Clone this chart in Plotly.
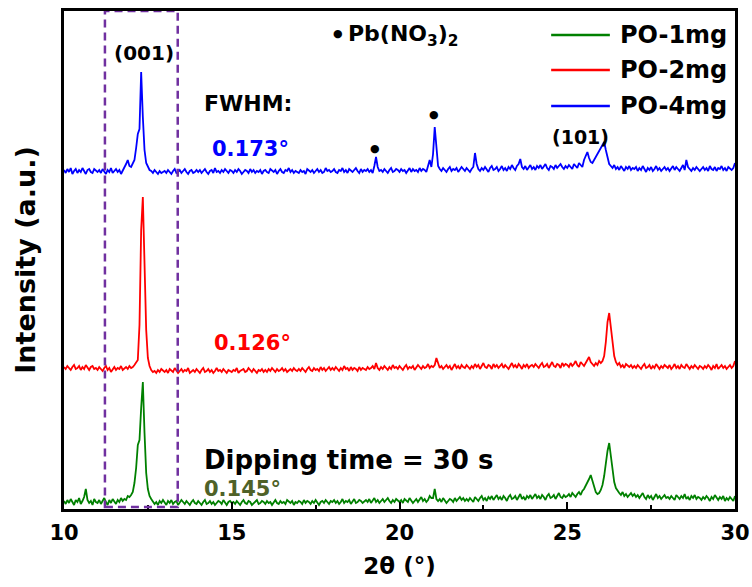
import numpy as np
import plotly.graph_objects as go

# 2-theta scan grid (step 0.05 deg, 10..30)
two_theta = np.round(np.arange(10.0, 30.0001, 0.05), 2)

# relative intensities (a.u.), one row per degree
po1_rel = (
    [2, -1, 3, 0, 4, 1, -2, 3, 1, 5, -1, 2, 6, 14, 3, 0, 2, -2, 4, 1] +
    [0, 3, -1, 2, 5, 1, -2, 3, 0, 4, 2, -1, 3, 1, 5, 2, 4, 3, 7, 6] +
    [8, 11, 20, 35, 58, 63, 95, 121, 70, 30, 14, 7, 4, 2, -1, 1, -2, 2, 0, 3] +
    [1, -2, 2, 0, 3, -1, 1, 2, -2, 0, 3, 1, -1, 2, 0, -2, 1, 3, 0, -1] +
    [2, 0, -2, 1, 3, -1, 0, 2, -1, 1, -2, 0, 2, 1, -1, 3, 0, -2, 1, 2] +
    [0, 1, -1, 2, 0, -2, 1, 3, 0, -1, 2, 1, -2, 0, 1, 3, -1, 0, 2, 1] +
    [-1, 2, 0, 1, -2, 1, 3, 0, -1, 2, 0, 1, -1, 3, 1, 0, 2, -2, 1, 0] +
    [2, 1, -1, 3, 0, 2, 1, -1, 2, 0, 3, 1, -2, 1, 2, 0, 3, 1, -1, 2] +
    [1, 3, 0, 2, -1, 1, 4, 0, 2, 1, 3, -1, 2, 4, 0, 1, 3, 2, 0, 2] +
    [3, 1, 4, 0, 2, 5, 1, 3, 0, 2, 4, 1, 3, 5, 2, 0, 3, 1, 4, 2] +
    [1, 3, 0, 4, 2, 1, 5, 3, 0, 2, 4, 1, 3, 6, 2, 4, 1, 3, 7, 5] +
    [5, 14, 4, 2, 4, 1, 5, 3, 0, 2, 4, 3, 1, 5, 2, 4, 6, 3, 5, 2] +
    [4, 2, 5, 3, 1, 6, 4, 2, 5, 7, 3, 5, 2, 6, 4, 7, 3, 5, 8, 4] +
    [6, 3, 7, 5, 2, 6, 8, 4, 5, 7, 3, 6, 9, 4, 6, 3, 7, 5, 8, 4] +
    [6, 9, 5, 7, 4, 8, 6, 3, 7, 9, 5, 6, 8, 4, 7, 10, 6, 5, 8, 6] +
    [7, 9, 6, 10, 8, 6, 9, 11, 8, 12, 14, 17, 21, 24, 28, 22, 15, 11, 9, 10] +
    [13, 18, 27, 40, 52, 60, 47, 32, 21, 15, 12, 10, 8, 11, 7, 9, 6, 8, 10, 7] +
    [9, 6, 8, 5, 7, 10, 6, 4, 8, 5, 7, 3, 6, 9, 5, 7, 4, 6, 8, 5] +
    [6, 4, 7, 5, 3, 8, 6, 4, 7, 5, 9, 4, 6, 3, 7, 5, 8, 4, 6, 5] +
    [3, 6, 4, 7, 5, 2, 6, 4, 8, 5, 3, 6, 4, 7, 2, 5, 3, 6, 4, 2] +
    [7]
)

po2_rel = (
    [3, 1, 4, 2, 0, 3, 5, 1, 2, 4, 0, 3, 1, 5, 2, 0, 3, 4, 1, 2] +
    [0, 3, 1, -1, 2, 4, 0, 2, -2, 1, 3, 0, 2, 1, 4, 0, 2, 3, 1, 4] +
    [2, 3, 5, 7, 10, 45, 140, 173, 110, 40, 12, 4, 0, -2, -1, -3, 0, -2, 1, -1] +
    [-2, 0, -3, 1, -1, -2, 2, 0, -3, -1, 1, -2, 0, -1, 2, -3, -1, 0, -2, 1] +
    [-1, -3, 0, 2, -2, -1, 1, -2, 0, -3, -1, 2, -1, 0, -2, 1, -1, -3, 0, -1] +
    [-2, 0, -1, 2, -3, -1, 0, 1, -2, -1, 2, 0, -2, 1, -1, -3, 0, -1, 1, -2] +
    [0, -2, 1, -1, 2, 0, -2, 1, -1, 0, 2, -1, 1, -2, 0, 1, -1, 2, 0, -1] +
    [1, -1, 2, 0, -2, 1, 3, 0, -1, 2, 0, 1, -1, 3, 0, 2, -1, 1, 3, 0] +
    [2, 0, 3, 1, -1, 2, 0, 4, 1, 2, -1, 3, 0, 2, 1, -1, 3, 0, 2, 1] +
    [0, 3, 1, 2, 4, 1, 7, 2, 0, 3, 1, 4, 2, 0, 3, 1, 5, 2, 3, 1] +
    [4, 2, 0, 3, 5, 1, 3, 2, 4, 0, 2, 5, 3, 1, 4, 2, 3, 6, 2, 4] +
    [3, 5, 12, 6, 2, 4, 1, 3, 5, 2, 4, 0, 3, 6, 2, 4, 1, 5, 3, 2] +
    [5, 3, 1, 4, 2, 6, 3, 5, 1, 4, 7, 3, 2, 5, 4, 1, 6, 3, 5, 2] +
    [4, 6, 2, 5, 3, 1, 4, 7, 3, 5, 2, 6, 4, 1, 5, 3, 6, 2, 4, 5] +
    [3, 6, 4, 2, 5, 7, 3, 4, 6, 2, 5, 8, 4, 3, 6, 5, 2, 7, 4, 6] +
    [5, 3, 7, 4, 6, 9, 5, 3, 8, 6, 4, 7, 10, 13, 8, 6, 4, 7, 5, 9] +
    [7, 9, 14, 28, 48, 57, 44, 26, 14, 8, 5, 7, 3, 5, 2, 6, 4, 3, 5, 2] +
    [4, 2, 5, 3, 1, 4, 6, 2, 3, 5, 1, 4, 2, 6, 3, 1, 4, 2, 5, 3] +
    [2, 5, 1, 3, 6, 2, 4, 1, 5, 3, 2, 6, 3, 1, 4, 2, 5, 3, 1, 4] +
    [3, 1, 4, 2, 5, 3, 0, 4, 2, 6, 1, 3, 5, 2, 4, 1, 3, 5, 2, 4] +
    [9]
)

po4_rel = (
    [2, -1, 3, 0, 4, -2, 1, 3, -1, 2, 0, 4, 1, -2, 2, 3, 0, -1, 3, 1] +
    [0, 2, -1, 3, 1, -2, 2, 0, 4, -1, 1, 3, 0, 2, -2, 1, 4, 8, 12, 6] +
    [5, 8, 12, 24, 38, 43, 100, 55, 22, 9, 5, 2, 1, -1, 2, 0, -2, 1, -1, 0] +
    [1, -1, 2, 0, -2, 1, 3, -1, 0, 2, -1, 1, 3, 0, -2, 1, 2, -1, 0, 2] +
    [0, 2, -1, 1, 3, 0, -2, 1, 2, -1, 4, 0, 1, -1, 2, 0, 3, 1, -1, 2] +
    [1, -1, 2, 0, 3, 1, -2, 0, 2, 1, -1, 3, 0, 2, -1, 1, 0, 2, -2, 1] +
    [2, 0, -1, 3, 1, 0, 2, -2, 1, 3, 0, -1, 2, 1, 4, 0, 2, -1, 1, 0] +
    [-1, 2, 0, 1, -2, 3, 1, 0, 2, -1, 1, 3, 0, 2, -1, 0, 4, 1, 2, 0] +
    [1, 3, 0, -1, 2, 1, 4, 0, 2, -1, 3, 1, 0, 2, 4, 1, -1, 3, 0, 2] +
    [1, 3, 0, 2, -1, 6, 15, 5, 1, 2, 0, 3, 1, -1, 2, 4, 0, 1, 3, 2] +
    [0, 3, 1, 2, -1, 2, 4, 0, 3, 1, 2, 0, 4, 1, 3, 2, 0, 6, 12, 5] +
    [18, 45, 20, 6, 3, 1, 4, 2, 0, 3, 5, 1, 3, 2, 4, 0, 2, 5, 3, 1] +
    [4, 2, 0, 3, 5, 19, 8, 3, 1, 4, 2, 5, 3, 0, 4, 6, 2, 3, 5, 1] +
    [3, 6, 2, 4, 1, 5, 3, 7, 4, 2, 6, 8, 13, 5, 3, 6, 2, 4, 7, 3] +
    [5, 2, 6, 4, 7, 3, 5, 8, 4, 2, 6, 5, 3, 7, 4, 6, 8, 5, 3, 6] +
    [4, 7, 5, 3, 8, 6, 4, 9, 7, 5, 12, 16, 20, 14, 10, 9, 12, 15, 18, 22] +
    [25, 27, 30, 22, 13, 8, 6, 4, 7, 3, 5, 2, 6, 4, 1, 5, 3, 6, 2, 4] +
    [3, 5, 1, 4, 2, 6, 3, 0, 4, 2, 5, 1, 3, 6, 2, 4, 1, 3, 5, 2] +
    [4, 1, 3, 6, 2, 5, 3, 1, 4, 7, 2, 12, 5, 3, 1, 4, 2, 5, 3, 1] +
    [3, 5, 2, 4, 1, 6, 3, 2, 5, 1, 4, 3, 6, 2, 4, 1, 5, 3, 2, 4] +
    [9]
)

series_names = ["PO-1mg", "PO-2mg", "PO-4mg"]
series_values = [po1_rel, po2_rel, po4_rel]
series_offsets = [6, 139, 337]          # vertical stacking offsets
series_colors = ["#008000", "#FF0000", "#0000FF"]
fwhm_labels = ["0.145°", "0.126°", "0.173°"]
fwhm_colors = ["#4F6228", "#FF0000", "#0000FF"]
x_ticks = [10, 15, 20, 25, 30]

FONT = "DejaVu Sans, Liberation Sans, Arial"

fig = go.Figure()
for name, vals, off, col in zip(series_names, series_values, series_offsets, series_colors):
    fig.add_trace(go.Scatter(
        x=two_theta, y=np.array(vals) + off, mode="lines", name=name,
        line=dict(color=col, width=1.8), showlegend=False,
    ))

# (001) highlight box
fig.add_shape(type="rect", xref="x", yref="y", x0=11.22, x1=13.39, y0=2, y1=498,
              line=dict(color="#7030A0", width=2.5, dash="8px,5px"), layer="above")

# custom legend (long line samples)
leg_y = [474, 439, 403]
for name, col, yy in zip(series_names, series_colors, leg_y):
    fig.add_shape(type="line", xref="x", yref="y", x0=24.52, x1=26.27, y0=yy, y1=yy,
                  line=dict(color=col, width=2.5))
    fig.add_annotation(x=26.5, y=yy, xref="x", yref="y", text=name, showarrow=False,
                       xanchor="left", yanchor="middle",
                       font=dict(family=FONT, size=24, color="black", weight="bold"))

def txt(x, y, s, size, color="black", anchor="left"):
    fig.add_annotation(x=x, y=y, xref="x", yref="y", text=s, showarrow=False,
                       xanchor=anchor, yanchor="middle",
                       font=dict(family=FONT, size=size, color=color, weight="bold"))

txt(12.38, 456, "(001)", 20, anchor="center")
txt(18.17, 476, "●", 11, anchor="center")
txt(18.4, 474, "Pb(NO<sub>3</sub>)<sub>2</sub>", 22)
txt(25.38, 372, "(101)", 19, anchor="center")
txt(19.27, 361, "●", 11, anchor="center")
txt(21.03, 395, "●", 11, anchor="center")
txt(14.1, 406, "FWHM:", 22)
txt(14.35, 360, fwhm_labels[2], 21, fwhm_colors[2])
txt(14.4, 166, fwhm_labels[1], 21, fwhm_colors[1])
txt(14.1, 49, "Dipping time = 30 s", 26)
txt(14.1, 20, fwhm_labels[0], 21, fwhm_colors[0])

fig.update_layout(
    width=752, height=587,
    margin=dict(l=64, r=17, t=11, b=78, autoexpand=False),
    paper_bgcolor="white", plot_bgcolor="white",
    font=dict(family=FONT, color="black", weight="bold"),
    xaxis=dict(range=[10, 30], tickvals=x_ticks, ticks="inside", ticklen=7, tickwidth=2,
               tickcolor="black", showline=True, linewidth=2.5, linecolor="black", mirror=True,
               showgrid=False, zeroline=False, automargin=False,
               minor=dict(dtick=2.5, ticks="inside", ticklen=4, tickwidth=1.5, tickcolor="black"),
               tickfont=dict(family=FONT, size=21, color="black", weight="bold"),
               ticklabelstandoff=3,
               title=dict(text="2θ (°)", font=dict(family=FONT, size=23, color="black", weight="bold"),
                          standoff=14)),
    yaxis=dict(range=[0, 498], showticklabels=False, ticks="", showline=True, linewidth=2.5,
               linecolor="black", mirror=True, showgrid=False, zeroline=False, automargin=False,
               title=dict(text="Intensity (a.u.)", font=dict(family=FONT, size=27, color="black", weight="bold"),
                          standoff=18)),
)

fig.write_html("out.html")
